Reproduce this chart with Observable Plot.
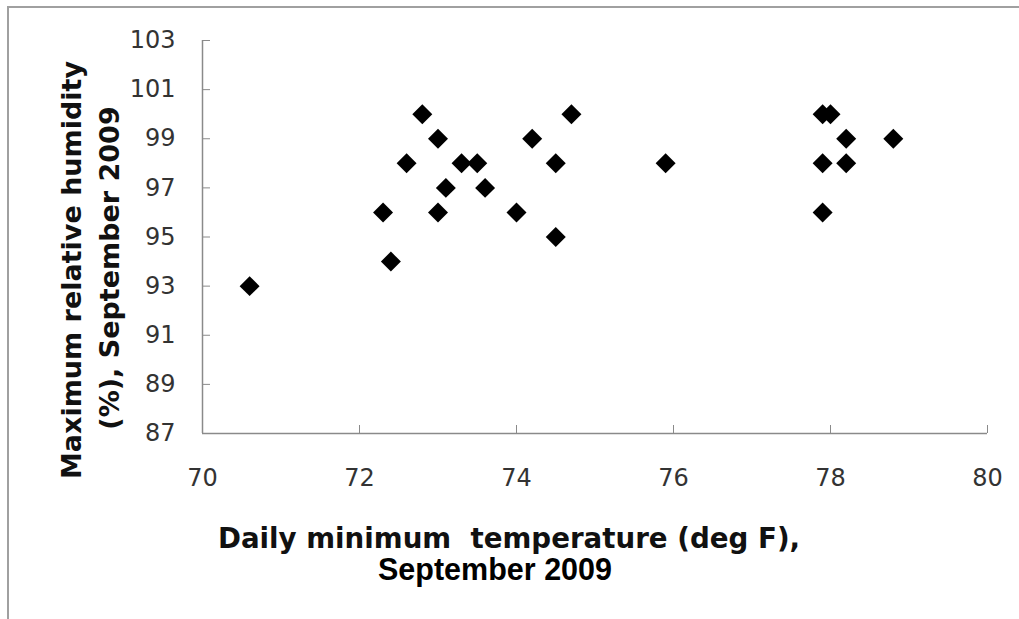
<!DOCTYPE html>
<html>
<head>
<meta charset="utf-8">
<script src="https://cdn.jsdelivr.net/npm/d3@7"></script>
<script src="https://cdn.jsdelivr.net/npm/@observablehq/plot@0.6"></script>
<style>
  html, body { margin: 0; padding: 0; background: #fff; }
  #wrap { position: relative; width: 1019px; height: 619px; overflow: hidden; }
  #frame { position: absolute; left: 7px; top: 6px; width: 1030px; height: 640px;
           border-top: 2px solid #a0a0a0; border-left: 2px solid #a0a0a0; }
  #chart { position: absolute; left: 0; top: 0; }
</style>
</head>
<body>
<div id="wrap"><div id="frame"></div><div id="chart"></div></div>
<script>
// Daily minimum temperature (deg F), September 2009
const temperature = [70.6, 72.3, 72.4, 72.6, 72.8, 73.0, 73.0, 73.1, 73.3, 73.5, 73.6, 74.0,
                     74.2, 74.5, 74.5, 74.7, 75.9, 77.9, 78.0, 78.2, 78.8, 77.9, 78.2, 77.9];
// Maximum relative humidity (%), September 2009
const humidity    = [93, 96, 94, 98, 100, 99, 96, 97, 98, 98, 97, 96,
                     99, 98, 95, 100, 98, 100, 100, 99, 99, 98, 98, 96];
const xTicks = [70, 72, 74, 76, 78, 80];
const yTicks = [87, 89, 91, 93, 95, 97, 99, 101, 103];
const xLabel1 = "Daily minimum\u00a0 temperature (deg F),";
const xLabel2 = "September 2009";
const yLabel1 = "Maximum relative humidity";
const yLabel2 = "(%), September 2009";

const points = temperature.map((t, i) => ({t, h: humidity[i]}));
const axisColor = "#8a8a8a";
const tickFont = "DejaVu Sans, Verdana, sans-serif";

const chart = Plot.plot({
  width: 1019,
  height: 619,
  marginLeft: 202,
  marginRight: 32,
  marginTop: 40,
  marginBottom: 186,
  style: {background: "transparent", fontFamily: tickFont},
  x: {domain: [70, 80], label: null},
  y: {domain: [87, 103], label: null},
  marks: [
    Plot.ruleY([87], {stroke: axisColor, strokeWidth: 1.5}),
    Plot.ruleX([70], {stroke: axisColor, strokeWidth: 1.5}),
    Plot.axisX({ticks: xTicks, tickSize: -8, fill: "none", stroke: axisColor, label: null}),
    Plot.axisY({ticks: yTicks, tickSize: -8, fill: "none", stroke: axisColor, label: null}),
    Plot.axisX({ticks: xTicks, tickSize: 0, tickPadding: 35, fill: "#333", fontSize: 24, label: null}),
    Plot.axisY({ticks: yTicks, tickSize: 0, tickPadding: 27, fill: "#333", fontSize: 24, label: null}),
    Plot.dot(points, {x: "t", y: "h", symbol: "diamond2", r: 9, fill: "black", stroke: "none"}),
    Plot.text([yLabel1], {text: d => d, frameAnchor: "left", dx: -130, dy: 33, rotate: -90,
      textAnchor: "middle", lineAnchor: "middle", fontSize: 27, fontWeight: "bold", fill: "#111",
      fontFamily: "DejaVu Sans, Verdana, sans-serif"}),
    Plot.text([yLabel2], {text: d => d, frameAnchor: "left", dx: -92, dy: 31, rotate: -90,
      textAnchor: "middle", lineAnchor: "middle", fontSize: 27, fontWeight: "bold", fill: "#111",
      fontFamily: "DejaVu Sans, Verdana, sans-serif"}),
    Plot.text([xLabel1], {text: d => d, frameAnchor: "bottom", dx: -86, dy: 106,
      textAnchor: "middle", lineAnchor: "middle", fontSize: 27.7, fontWeight: "bold", fill: "#111",
      fontFamily: "DejaVu Sans, Verdana, sans-serif"}),
    Plot.text([xLabel2], {text: d => d, frameAnchor: "bottom", dx: -100, dy: 137,
      textAnchor: "middle", lineAnchor: "middle", fontSize: 30.5, fontWeight: "bold", fill: "#000",
      fontFamily: "Liberation Sans, Arial, sans-serif"})
  ]
});
document.getElementById("chart").appendChild(chart);
</script>
</body>
</html>
